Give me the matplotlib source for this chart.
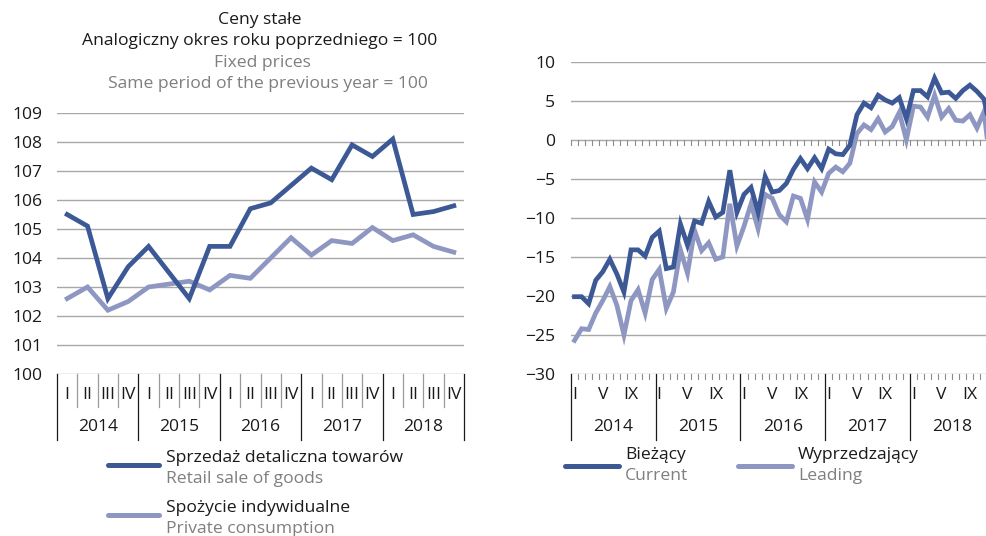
import matplotlib

matplotlib.use("Agg")
import matplotlib.pyplot as plt
import matplotlib.transforms as mtransforms
import numpy as np

FS = 12.6

plt.rcParams.update(
    {
        "font.family": ["Open Sans", "DejaVu Sans"],
        "font.size": FS,
        "figure.facecolor": "white",
        "axes.facecolor": "white",
        "savefig.facecolor": "white",
    }
)

# ---- data -------------------------------------------------------------
YEARS = ["2014", "2015", "2016", "2017", "2018"]
QUARTERS = ["I", "II", "III", "IV"]
MONTH_LABELS = {0: "I", 4: "V", 8: "IX"}

retail_sale = [
    105.5, 105.1, 102.6, 103.7,
    104.4, 103.5, 102.6, 104.4,
    104.4, 105.7, 105.9, 106.5,
    107.1, 106.7, 107.9, 107.5,
    108.1, 105.5, 105.6, 105.8,
]
private_consumption = [
    102.6, 103.0, 102.2, 102.5,
    103.0, 103.1, 103.2, 102.9,
    103.4, 103.3, 104.0, 104.7,
    104.1, 104.6, 104.5, 105.05,
    104.6, 104.8, 104.4, 104.2,
]

current = [
    -20.1, -20.1, -21.0, -18.0, -16.9, -15.3, -17.2, -19.5, -14.1, -14.1, -14.9, -12.5,
    -11.7, -16.5, -16.3, -10.8, -13.5, -10.4, -10.7, -7.9, -9.9, -9.3, -3.9, -9.3,
    -7.0, -6.1, -9.3, -4.7, -6.7, -6.5, -5.6, -3.8, -2.4, -3.7, -2.3, -3.7,
    -1.2, -1.8, -1.9, -0.7, 3.2, 4.7, 4.1, 5.7, 5.1, 4.7, 5.4, 2.7,
    6.3, 6.3, 5.5, 7.9, 6.0, 6.1, 5.3, 6.3, 7.0, 6.2, 5.2, 1.0,
]
leading = [
    -25.7, -24.2, -24.3, -22.2, -20.6, -18.8, -21.2, -25.0, -20.6, -19.2, -22.2, -17.9,
    -16.6, -21.6, -19.5, -14.1, -17.1, -11.6, -14.2, -13.2, -15.3, -15.0, -8.2, -13.6,
    -11.1, -8.2, -11.4, -7.0, -7.5, -9.6, -10.5, -7.2, -7.5, -10.2, -5.4, -6.7,
    -4.3, -3.5, -4.1, -3.0, 0.8, 1.9, 1.3, 2.7, 1.0, 1.7, 3.5, 0.0,
    4.3, 4.2, 2.9, 5.7, 2.9, 4.0, 2.5, 2.4, 3.2, 1.5, 3.6, -4.0,
]

DARK = "#3c5996"
LIGHT = "#8e97c1"
GRID = "#a8a8a8"
TEXT = "#1a1a1a"
GREY_TEXT = "#7f7f7f"

W, H = 986, 536
fig = plt.figure(figsize=(W / 100, H / 100), dpi=100)


def px_axes(left, top, right, bottom):
    return fig.add_axes([left / W, 1 - bottom / H, (right - left) / W, (bottom - top) / H])


def clean(ax, pad):
    for side in ax.spines.values():
        side.set_visible(False)
    ax.tick_params(length=0, labelsize=FS, colors=TEXT, pad=pad)
    ax.set_xticks([])


# ---- left: quarterly indices ------------------------------------------
ax1 = px_axes(57, 113, 464, 374)
clean(ax1, 10.5)
ax1.set_xlim(0, 20)
ax1.set_ylim(100, 109)
ax1.set_yticks(range(100, 110))
for v in range(100, 110):
    ax1.axhline(v, color=GRID, lw=1.0, zorder=1)
xq = np.arange(len(retail_sale)) + 0.5
ax1.plot(xq, private_consumption, color=LIGHT, lw=3.4, solid_joinstyle="miter", zorder=3)
ax1.plot(xq, retail_sale, color=DARK, lw=3.4, solid_joinstyle="miter", zorder=4)

h1 = 374 - 113
tr1 = mtransforms.blended_transform_factory(ax1.transData, ax1.transAxes)
for i in range(21):
    if i % 4 == 0:
        ax1.plot([i, i], [0, -66 / h1], color=TEXT, lw=0.9, transform=tr1, clip_on=False)
    else:
        ax1.plot([i, i], [0, -33 / h1], color="#9a9a9a", lw=0.9, transform=tr1, clip_on=False)
for y_idx, year in enumerate(YEARS):
    for q_idx, q in enumerate(QUARTERS):
        ax1.text(y_idx * 4 + q_idx + 0.5, -21 / h1, q, transform=tr1, ha="center", va="center",
                 fontsize=FS, color=TEXT)
    ax1.text(y_idx * 4 + 2, -53 / h1, year, transform=tr1, ha="center", va="center",
             fontsize=FS, color=TEXT)

fig.text(260 / W, 1 - 20 / H, "Ceny stałe", ha="center", va="center", fontsize=FS, color=TEXT)
fig.text(260 / W, 1 - 41 / H, "Analogiczny okres roku poprzedniego = 100", ha="center", va="center",
         fontsize=FS, color=TEXT)
fig.text(262 / W, 1 - 63 / H, "Fixed prices", ha="center", va="center", fontsize=FS, color=GREY_TEXT)
fig.text(268 / W, 1 - 84 / H, "Same period of the previous year = 100", ha="center", va="center",
         fontsize=FS, color=GREY_TEXT)

# legend left
for y_line, pl, en, col in [(465, "Sprzedaż detaliczna towarów", "Retail sale of goods", DARK),
                            (515, "Spożycie indywidualne", "Private consumption", LIGHT)]:
    fig.add_artist(plt.Line2D([108 / W, 159 / W], [1 - y_line / H] * 2, color=col, lw=3.6,
                              solid_capstyle="round"))
    fig.text(166 / W, 1 - (y_line - 7) / H, pl, ha="left", va="center", fontsize=FS, color=TEXT)
    fig.text(166 / W, 1 - (y_line + 14) / H, en, ha="left", va="center", fontsize=FS, color=GREY_TEXT)

# ---- right: monthly indicators ----------------------------------------
ax2 = px_axes(571, 61.7, 994.6, 374)
clean(ax2, 11.5)
ax2.set_xlim(0, 60)
ax2.set_ylim(-30, 10)
ax2.set_yticks(range(-30, 11, 5))
for v in range(-30, 11, 5):
    ax2.axhline(v, color=GRID, lw=1.0, zorder=1)
xm = np.arange(len(current)) + 0.5
ax2.plot(xm, leading, color=LIGHT, lw=3.4, solid_joinstyle="miter", zorder=3)
ax2.plot(xm, current, color=DARK, lw=3.4, solid_joinstyle="miter", zorder=4)

h2 = 374 - 61.7
tr2 = mtransforms.blended_transform_factory(ax2.transData, ax2.transAxes)
for base in (0, -30):
    base_frac = (base + 30) / 40
    for i in range(61):
        if base == -30 and i % 12 == 0:
            continue
        ax2.plot([i, i], [base_frac, base_frac - 5 / h2], color="#8c8c8c", lw=0.8,
                 transform=tr2, clip_on=False, zorder=2)
for i in range(0, 61, 12):
    ax2.plot([i, i], [0, -66 / h2], color=TEXT, lw=0.9, transform=tr2, clip_on=False)
for y_idx, year in enumerate(YEARS):
    for m_idx, lab in MONTH_LABELS.items():
        ax2.text(y_idx * 12 + m_idx + 0.5, -21 / h2, lab, transform=tr2, ha="center", va="center",
                 fontsize=FS, color=TEXT)
    ax2.text(y_idx * 12 + 6, -53 / h2, year, transform=tr2, ha="center", va="center",
             fontsize=FS, color=TEXT)

for x0, pl, en, col in [(565, "Bieżący", "Current", DARK), (738, "Wyprzedzający", "Leading", LIGHT)]:
    fig.add_artist(plt.Line2D([x0 / W, (x0 + 54) / W], [1 - 466 / H] * 2, color=col, lw=3.6,
                              solid_capstyle="round"))
    fig.text((x0 + 60) / W, 1 - 455 / H, pl, ha="left", va="center", fontsize=FS, color=TEXT)
    fig.text((x0 + 60) / W, 1 - 476 / H, en, ha="left", va="center", fontsize=FS, color=GREY_TEXT)

fig.savefig("out.png", dpi=100)
